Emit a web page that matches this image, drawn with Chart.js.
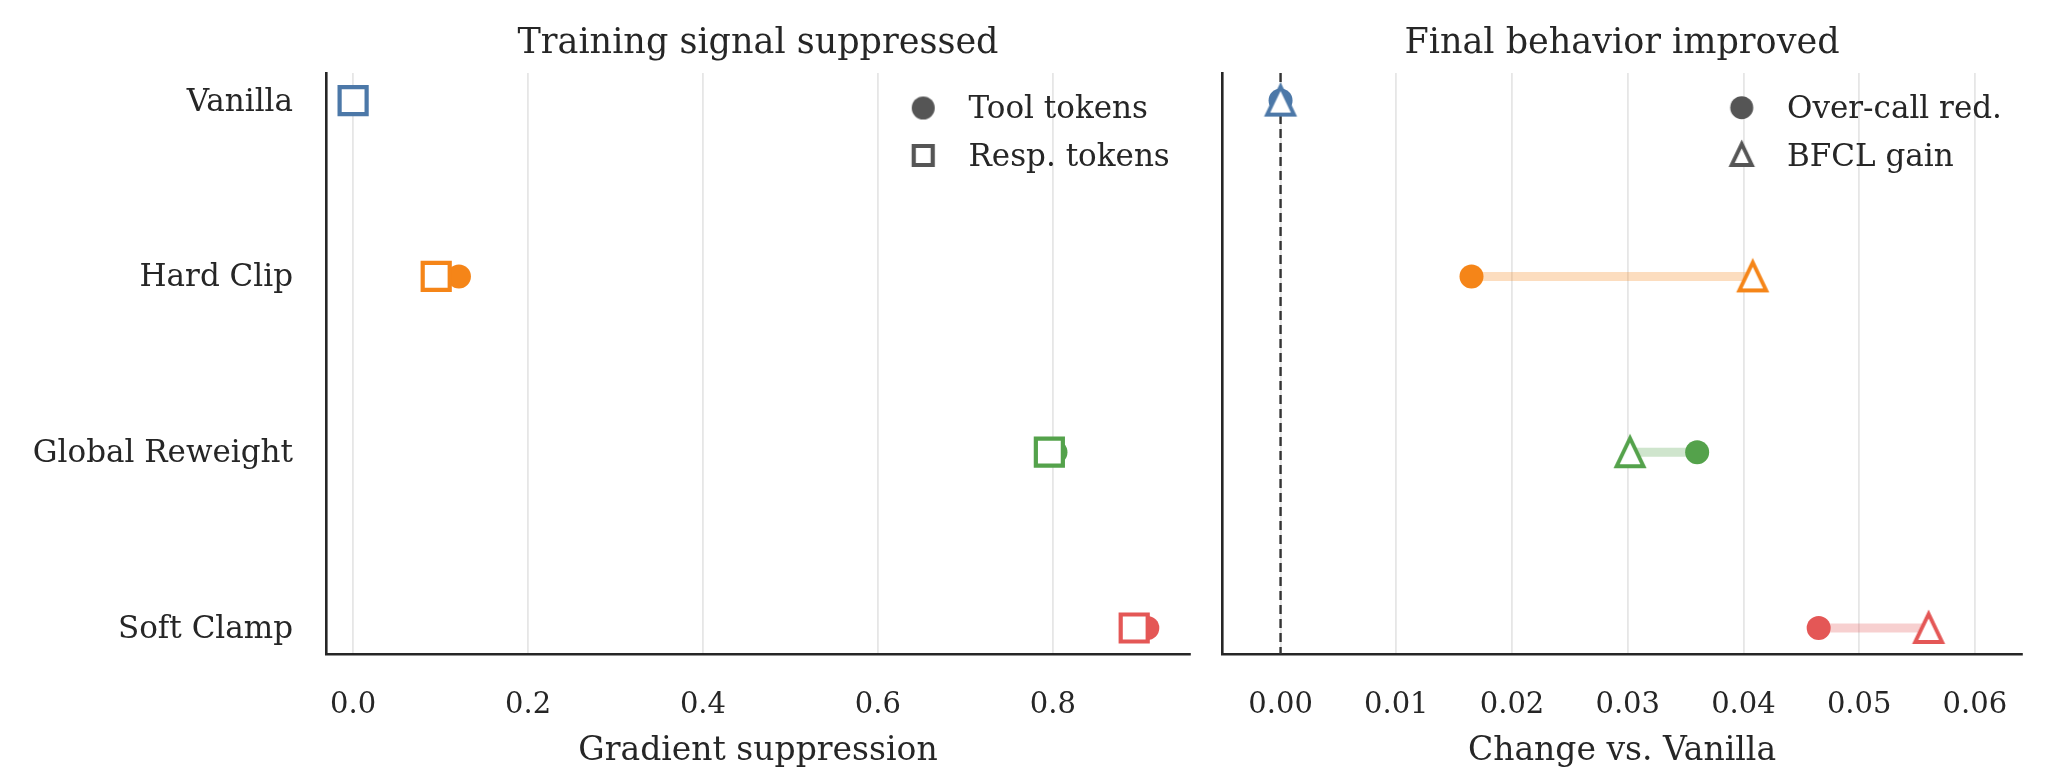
<!DOCTYPE html>
<html><head><meta charset="utf-8">
<script src="https://cdn.jsdelivr.net/npm/chart.js@4.4.1/dist/chart.umd.min.js"></script>
<style>
html,body{margin:0;padding:0;background:#fff;}
#wrap{position:relative;width:2051px;height:771px;overflow:hidden;background:#fff;}
#c1{position:absolute;left:0;top:0;}
#c2{position:absolute;left:1200px;top:0;}
</style></head><body>
<div id="wrap">
<canvas id="c1" width="1200" height="771"></canvas>
<canvas id="c2" width="851" height="771"></canvas>
</div>
<script>
// ---------- data ----------
const categories = ['Vanilla', 'Hard Clip', 'Global Reweight', 'Soft Clamp'];
const toolTokens = [0.0, 0.121, 0.803, 0.908];
const respTokens = [0.0, 0.095, 0.796, 0.893];
const overCallRed = [0.0, 0.0165, 0.0360, 0.0465];
const bfclGain = [0.0, 0.0408, 0.0302, 0.0560];
const leftTicks = [0, 0.2, 0.4, 0.6, 0.8];
const rightTicks = [0, 0.01, 0.02, 0.03, 0.04, 0.05, 0.06];
const palette = ['#4C78A8', '#F58518', '#54A24B', '#E45756'];
const connectorAlpha = 0.28;

// ---------- styling ----------
const FONT = 'DejaVu Serif';
const TXT = '#262626';
const SPINE = '#262626';
const GRID = '#e6e6e6';
const yMin = -0.157, yMax = 3.148;

function hexA(hex, a) {
  const n = parseInt(hex.slice(1), 16);
  return `rgba(${(n >> 16) & 255},${(n >> 8) & 255},${n & 255},${a})`;
}
function marker(kind, color, size, lw, dy) {
  dy = dy || 0;
  const dim = Math.round(size + 24 + 2 * Math.abs(dy));
  const c = document.createElement('canvas');
  c.width = dim; c.height = dim;
  const g = c.getContext('2d');
  const cx = dim / 2, cy = dim / 2 + dy;
  g.lineJoin = 'miter';
  g.lineWidth = lw;
  g.strokeStyle = color;
  g.fillStyle = '#fff';
  if (kind === 'tri') {
    const w = size * 0.96, h = size;
    g.beginPath();
    g.moveTo(cx, cy - h / 2);
    g.lineTo(cx - w / 2, cy + h / 2);
    g.lineTo(cx + w / 2, cy + h / 2);
    g.closePath();
    g.fill(); g.stroke();
  } else if (kind === 'sq') {
    g.beginPath();
    g.rect(cx - size / 2, cy - size / 2, size, size);
    g.fill(); g.stroke();
  } else {
    g.fillStyle = color;
    g.beginPath();
    g.arc(cx, cy, size / 2, 0, Math.PI * 2);
    g.fill();
  }
  return c;
}
const triMarkers = palette.map(c => marker('tri', c, 28, 3.9));
const LEG = '#555555';
const legCircleL = marker('circ', LEG, 23, 0, -2);
const legSquare = marker('sq', LEG, 19, 4.2, -2);
const legCircleR = marker('circ', LEG, 23, 0, -2.3);
const legTri = marker('tri', LEG, 21, 3.9, -3);

function placeLegend(left, top) {
  return {
    id: 'placeLegend',
    afterLayout(chart) {
      const lg = chart.legend;
      const w = lg.width, h = lg.height;
      lg.left = left; lg.top = top; lg.right = left + w; lg.bottom = top + h;
    }
  };
}

function yAxis(showLabels, width) {
  return {
    type: 'linear', min: yMin, max: yMax, reverse: true,
    afterBuildTicks: s => { s.ticks = categories.map((_, i) => ({ value: i })); },
    afterFit: s => { s.width = width; },
    grid: { display: true, drawOnChartArea: false, drawTicks: false, color: 'rgba(0,0,0,0)' },
    border: { display: true, color: SPINE, width: 2.6 },
    ticks: {
      display: showLabels, padding: 33, labelOffset: 2, color: TXT,
      font: { family: FONT, size: 31 },
      callback: v => categories[v]
    }
  };
}
function xAxis(min, max, ticks, decimals, title) {
  return {
    type: 'linear', position: 'bottom', min, max,
    afterBuildTicks: s => { s.ticks = ticks.map(v => ({ value: v })); },
    afterFit: s => { s.height = 117; },
    grid: { color: GRID, lineWidth: 1.8, drawTicks: false },
    border: { display: true, color: SPINE, width: 2.6 },
    ticks: { padding: 34.5, color: TXT, font: { family: FONT, size: 29 }, callback: v => Number(v).toFixed(decimals) },
    title: { display: true, text: title, color: TXT, font: { family: FONT, size: 33 }, padding: { top: 0, bottom: 0 } }
  };
}
function topAxis(min, max, title) {
  return {
    type: 'linear', position: 'top', min, max,
    afterFit: s => { s.height = 73; },
    grid: { display: false, drawTicks: false },
    border: { display: false },
    ticks: { display: false },
    title: { display: true, text: title, color: TXT, font: { family: FONT, size: 35 }, padding: { top: 23, bottom: 0 } }
  };
}
function legendOpts(items, boxWidth) {
  return {
    display: true, position: 'chartArea', align: 'start',
    labels: {
      usePointStyle: true, pointStyleWidth: boxWidth, boxWidth, boxHeight: 20, padding: 16.5,
      color: TXT, font: { family: FONT, size: 31 },
      generateLabels: () => items.map(([text, ps]) => ({
        text, pointStyle: ps, fillStyle: LEG, strokeStyle: LEG, lineWidth: 0,
        hidden: false, fontColor: TXT
      }))
    }
  };
}

Chart.defaults.font.family = FONT;

// ---------- left chart ----------
new Chart(document.getElementById('c1'), {
  type: 'scatter',
  data: {
    datasets: [
      {
        label: 'Resp. tokens',
        data: respTokens.map((v, i) => ({ x: v, y: i })),
        pointStyle: 'rect', pointRadius: 19.1, pointBorderWidth: 4.2,
        pointBorderColor: palette, pointBackgroundColor: '#ffffff', order: 0
      },
      {
        label: 'Tool tokens',
        data: toolTokens.map((v, i) => ({ x: v, y: i })),
        pointStyle: 'circle', pointRadius: 12, pointBorderWidth: 0,
        pointBackgroundColor: palette, pointBorderColor: palette, order: 1
      }
    ]
  },
  options: {
    responsive: false, devicePixelRatio: 1, animation: false, events: [],
    layout: { autoPadding: false, padding: { left: 0, right: 10, top: 0, bottom: 0 } },
    scales: {
      x: xAxis(-0.031, 0.9568, leftTicks, 1, 'Gradient suppression'),
      xTop: topAxis(-0.031, 0.9568, 'Training signal suppressed'),
      y: yAxis(true, 326)
    },
    plugins: {
      legend: legendOpts([['Tool tokens', legCircleL], ['Resp. tokens', legSquare]], 59.5),
      tooltip: { enabled: false }
    }
  },
  plugins: [placeLegend(877, 78)]
});

// ---------- right chart ----------
const connectors = categories.map((_, i) => ({
  label: 'conn' + i,
  data: [{ x: overCallRed[i], y: i }, { x: bfclGain[i], y: i }],
  showLine: true, borderColor: hexA(palette[i], connectorAlpha), borderWidth: 9,
  pointRadius: 0, borderCapStyle: 'butt', order: 2
}));
new Chart(document.getElementById('c2'), {
  type: 'scatter',
  data: {
    datasets: [
      {
        label: 'BFCL gain',
        data: bfclGain.map((v, i) => ({ x: v, y: i })),
        pointStyle: triMarkers, pointRadius: 16, order: 0
      },
      {
        label: 'Over-call red.',
        data: overCallRed.map((v, i) => ({ x: v, y: i })),
        pointStyle: 'circle', pointRadius: 12, pointBorderWidth: 0,
        pointBackgroundColor: palette, pointBorderColor: palette, order: 1
      },
      ...connectors,
      {
        label: 'zero',
        data: [{ x: 0, y: yMin }, { x: 0, y: yMax }],
        showLine: true, borderColor: '#333333', borderWidth: 2.4, borderDash: [9, 5],
        pointRadius: 0, order: 3
      }
    ]
  },
  options: {
    responsive: false, devicePixelRatio: 1, animation: false, events: [],
    layout: { autoPadding: false, padding: { left: 0, right: 29, top: 0, bottom: 0 } },
    scales: {
      x: xAxis(-0.00506, 0.06407, rightTicks, 2, 'Change vs. Vanilla'),
      xTop: topAxis(-0.00506, 0.06407, 'Final behavior improved'),
      y: yAxis(false, 22)
    },
    plugins: {
      legend: legendOpts([['Over-call red.', legCircleR], ['BFCL gain', legTri]], 59.5),
      tooltip: { enabled: false }
    }
  },
  plugins: [placeLegend(495.5, 78)]
});
</script>
</body></html>
